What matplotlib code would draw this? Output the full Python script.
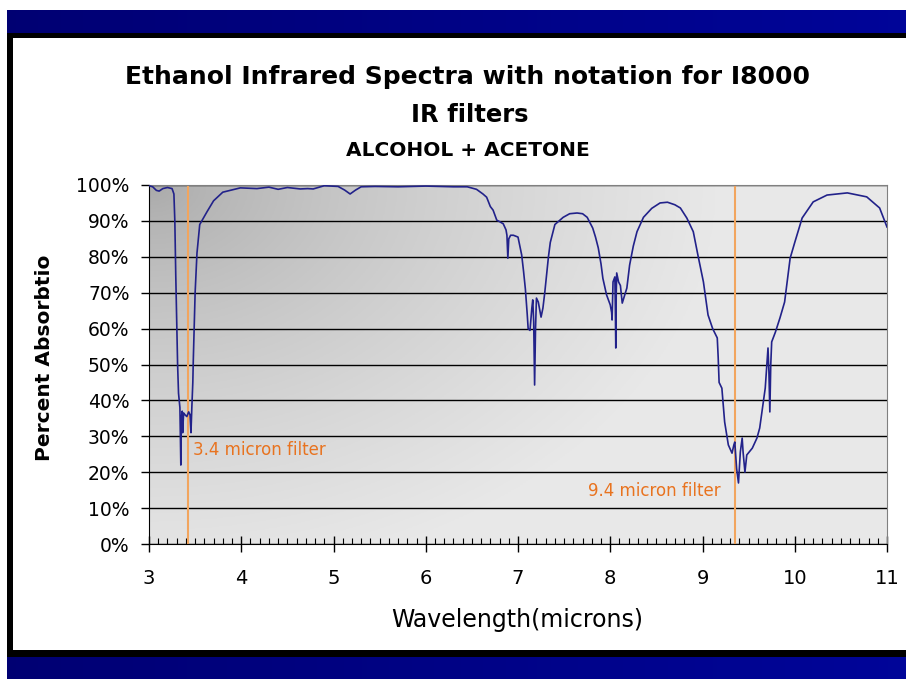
import numpy as np
import matplotlib.pyplot as plt
from matplotlib.patches import Rectangle
from matplotlib.ticker import MultipleLocator

wavelength = [3.00, 3.04, 3.08, 3.11, 3.15, 3.20, 3.25, 3.27, 3.28, 3.29, 3.30, 3.31, 3.32,
              3.335, 3.345, 3.35, 3.36, 3.365, 3.375, 3.39, 3.41, 3.43, 3.445, 3.455, 3.465,
              3.475, 3.48, 3.50, 3.52, 3.55, 3.63, 3.70, 3.80, 3.99, 4.17, 4.30, 4.40, 4.50,
              4.64, 4.72, 4.78, 4.90, 5.05, 5.12, 5.18, 5.24, 5.30, 5.45, 5.70, 6.00, 6.30,
              6.45, 6.55, 6.62, 6.66, 6.70, 6.73, 6.77, 6.80, 6.84, 6.87, 6.88, 6.89, 6.90,
              6.92, 6.95, 7.00, 7.02, 7.04, 7.06, 7.08, 7.10, 7.11, 7.13, 7.15, 7.16, 7.17,
              7.18, 7.19, 7.20, 7.22, 7.25, 7.27, 7.29, 7.31, 7.33, 7.35, 7.40, 7.49, 7.56,
              7.64, 7.70, 7.75, 7.81, 7.84, 7.87, 7.90, 7.92, 7.96, 7.98, 8.00, 8.015, 8.02,
              8.03, 8.05, 8.055, 8.06, 8.065, 8.07, 8.09, 8.11, 8.13, 8.15, 8.18, 8.21, 8.25,
              8.29, 8.36, 8.45, 8.54, 8.62, 8.70, 8.76, 8.83, 8.90, 8.95, 9.01, 9.06, 9.11,
              9.16, 9.17, 9.18, 9.21, 9.24, 9.28, 9.32, 9.34, 9.35, 9.37, 9.39, 9.41, 9.43,
              9.44, 9.46, 9.48, 9.54, 9.59, 9.62, 9.64, 9.68, 9.70, 9.71, 9.72, 9.73, 9.74,
              9.75, 9.79, 9.84, 9.89, 9.95, 10.00, 10.08, 10.20, 10.35, 10.57, 10.78, 10.92,
              11.00]
absorcion = [99.8, 99.5, 98.5, 98.3, 99.0, 99.3, 99.0, 97.5, 90, 75, 62, 50, 42,
             38, 22, 35, 37, 31, 36.5, 36, 35.5, 36.8, 36, 31, 38.5,
             45, 51, 70, 81, 89, 92.6, 95.6, 98, 99.2, 99.0, 99.4, 98.8, 99.3,
             98.9, 99.0, 98.9, 99.8, 99.6, 98.6, 97.5, 98.6, 99.5, 99.6, 99.5, 99.7, 99.5,
             99.5, 98.8, 97.5, 96.6, 94, 93, 90.2, 89.8, 89.2, 87.5, 86, 79.6, 85,
             86, 86, 85.5, 83, 80.5, 76, 71, 64, 60, 59.5, 65.7, 68, 62,
             44.3, 60, 68.5, 67.4, 63.2, 65.7, 70, 75, 80, 84, 89, 91, 92,
             92.2, 92, 91, 88, 85.5, 82.5, 78, 74, 69.4, 68, 66.6, 64.5, 62.4,
             73, 74.4, 66, 54.6, 70, 75.5, 73, 72, 67.1, 68.8, 71.3, 77.7, 83,
             87, 91, 93.5, 95, 95.2, 94.5, 93.6, 90.8, 87, 80.5, 73, 63.8, 60,
             57.4, 52, 45, 43.4, 34, 27.6, 25.3, 27.6, 28.4, 21, 17, 25.6, 29.5,
             25.6, 20, 24.8, 26.7, 29.5, 32.3, 36, 43.4, 50.7, 54.6, 48, 36.8, 50,
             56.3, 59, 63, 67.4, 79.6, 84, 90.8, 95.3, 97.2, 97.8, 96.7, 93.6,
             88.3]

filtros = [3.42, 9.35]
filtro_textos = ["3.4 micron filter", "9.4 micron filter"]
filtro_pos = [(3.48, 26.2), (7.76, 14.8)]

fuente = "DejaVu Sans"
W, H = 906, 679
fig = plt.figure(figsize=(W / 100, H / 100), dpi=100)
fig.patch.set_facecolor("white")

# Bandas azules de la diapositiva (arriba y abajo)
banda = np.linspace(0, 1, 200)
rgb = np.zeros((2, 200, 3))
rgb[:, :, 2] = 0.45 + 0.15 * banda
rgb[:, :, 1] = 0.02 * banda
for (y0, alto) in [(H - 33, 23), (0, 22)]:
    axb = fig.add_axes([7 / W, y0 / H, 1 - 7 / W, alto / H])
    axb.imshow(rgb, aspect="auto", extent=[0, 1, 0, 1])
    axb.set_axis_off()

# Marco negro
for (x0, y0, ww, hh) in [(7, H - 38, W - 7, 5), (7, H - 657, 6, 657 - 33), (7, H - 657, W - 7, 7)]:
    fig.add_artist(Rectangle((x0 / W, y0 / H), ww / W, hh / H, transform=fig.transFigure,
                             facecolor="black", edgecolor="none"))

ax = fig.add_axes([149 / W, 1 - 544 / H, 738 / W, 359 / H])

# Fondo degradado del area de trazado (oscuro arriba a la izquierda)
gx, gy = np.meshgrid(np.linspace(0, 1, 300), np.linspace(0, 1, 200))
t = np.clip(np.sqrt((gx * 1.3) ** 2 + (gy * 0.9) ** 2), 0, 1) ** 0.7
gris = 0.66 + (0.91 - 0.66) * t
fondo = np.dstack([gris, gris, gris])
ax.imshow(fondo, extent=[3, 11, 0, 100], aspect="auto", zorder=0, origin="upper")

ax.set_xlim(3, 11)
ax.set_ylim(0, 100)
ax.set_yticks(range(0, 101, 10))
ax.set_yticklabels([f"{v}%" for v in range(0, 101, 10)], fontsize=13.5, family=fuente)
ax.set_xticks(range(3, 12))
ax.set_xticklabels([str(v) for v in range(3, 12)], fontsize=14, family=fuente)
ax.xaxis.set_minor_locator(MultipleLocator(0.1))
ax.tick_params(axis="x", which="major", direction="inout", length=12, width=1, pad=12)
ax.tick_params(axis="x", which="minor", direction="in", length=4, width=0.8)
ax.tick_params(axis="y", which="major", direction="out", length=6, width=1, pad=8)

ax.set_axisbelow(True)
ax.yaxis.grid(True, color="black", lw=1)
for lado in ["top", "right"]:
    ax.spines[lado].set_color("#808080")
for lado in ["left", "bottom"]:
    ax.spines[lado].set_color("black")

ax.plot(wavelength, absorcion, color="#22228a", lw=1.2, zorder=3)

for xf, txt, (tx, ty) in zip(filtros, filtro_textos, filtro_pos):
    ax.axvline(xf, color="#f2a55e", lw=1.5, zorder=2)
    ax.text(tx, ty, txt, color="#e8731f", fontsize=12, va="center", ha="left",
            family=fuente, zorder=4)

fig.text(0.516, 1 - 77 / H, "Ethanol Infrared Spectra with notation for I8000",
         ha="center", va="center", fontsize=18, fontweight="bold", family=fuente)
fig.text(0.518, 1 - 115 / H, "IR filters", ha="center", va="center", fontsize=17.5,
         fontweight="bold", family=fuente)
fig.text(0.516, 1 - 150 / H, "ALCOHOL + ACETONE", ha="center", va="center", fontsize=14.5,
         fontweight="bold", family=fuente)
fig.text(45 / W, 1 - 358 / H, "Percent Absorbtio", rotation=90, ha="center", va="center",
         fontsize=14.5, fontweight="bold", family=fuente)
fig.text(517 / W, 1 - 620 / H, "Wavelength(microns)", ha="center", va="center",
         fontsize=17, family=fuente)

fig.savefig("out.png", dpi=100)
